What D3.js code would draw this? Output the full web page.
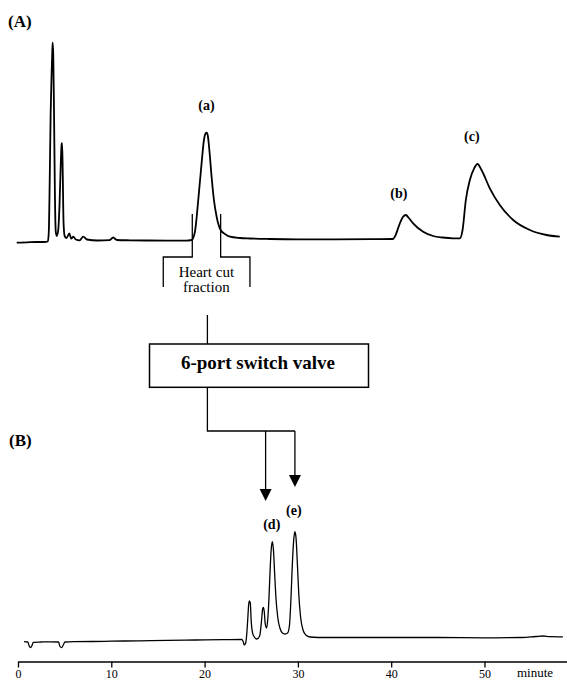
<!DOCTYPE html>
<html>
<head>
<meta charset="utf-8">
<script src="https://cdn.jsdelivr.net/npm/d3@7/dist/d3.min.js"></script>
<style>
  html, body { margin: 0; padding: 0; background: #fff; }
  svg { display: block; }
</style>
</head>
<body>
<div id="chart"></div>
<script>
"use strict";

// Chromatogram (A): retention time (min) and detector signal
var timeA = [-0.14, 1.0, 2.0, 2.8, 3.2, 3.3, 3.4, 3.5, 3.6, 3.68, 3.72, 3.78, 3.86, 3.95,
  4.05, 4.15, 4.3, 4.45, 4.58, 4.68, 4.73, 4.8, 4.88, 5.0, 5.2, 5.5, 5.7, 5.93, 6.2, 6.6,
  7.0, 7.4, 8.5, 9.8, 10.2, 10.6, 12, 14, 16, 18, 18.6, 18.96, 19.32, 19.68, 19.93, 20.1,
  20.22, 20.35, 20.46, 20.75, 21.0, 21.29, 21.72, 22.18, 22.71, 23.79, 24.86, 27, 30, 34,
  38, 40.2, 40.4, 40.93, 41.25, 41.57, 41.89, 42.35, 43.43, 44.5, 45.5, 46.64, 47.36,
  47.65, 48.0, 48.43, 48.89, 49.25, 49.68, 50.57, 51.64, 53.07, 54.86, 56.65, 58.07];
var signalA = [0.15, 0.35, 0.5, 0.5, 0.75, 5.5, 31.5, 65, 84, 96.5, 100.2, 94, 66.5, 26.5,
  5.5, 3.5, 6, 19, 39, 49.5, 49.9, 34, 10.5, 3.5, 2.5, 4.75, 2.25, 3.15, 1.75, 1.35,
  3.15, 1.75, 1.25, 1.4, 2.75, 1.5, 1.35, 1.25, 1.2, 1.2, 1.5, 5.5, 21.5, 40, 51.5, 54.75,
  55.15, 53.5, 49, 33.15, 21.5, 13.15, 6.5, 4.5, 3.15, 2.5, 2.25, 2, 1.85, 1.85,
  1.9, 2, 3.25, 9.85, 13, 14, 12.5, 9.85, 5.65, 3.5, 2.75, 2.35, 2.35,
  6.5, 21.5, 31.5, 37.35, 39.5, 36.5, 27.35, 19, 11.5, 6.5, 4, 3.15];

// Chromatogram (B)
var timeB = [0.64, 1.05, 1.2, 1.35, 1.5, 1.64, 2.5, 3.5, 4.35, 4.5, 4.68, 4.85, 5.04, 6, 8,
  10, 13, 16, 19, 22, 24.0, 24.15, 24.25, 24.4, 24.5, 24.62, 24.72, 24.8, 24.9, 25.0,
  25.21, 25.6, 25.9, 26.11, 26.22, 26.3, 26.4, 26.5, 26.65, 26.78, 26.89, 27.0, 27.12,
  27.25, 27.38, 27.5, 27.64, 27.85, 28.07, 28.35, 28.61, 28.9, 29.1, 29.25, 29.4, 29.55,
  29.68, 29.8, 29.95, 30.1, 30.3, 30.55, 30.85, 31.29, 33, 38, 45, 50, 54, 55.5, 56.25,
  57, 58.4];
var signalB = [0.3, 0, -4, -5.7, -3.5, -0.3, 0, 0.2, 0, -4.5, -5.7, -3, 0, 0.4, 0.5,
  0.8, 1.2, 1.7, 2, 2.3, 2.6, 0, -3, -1, 6, 22, 37, 41, 39, 20,
  7, 3, 6, 22, 33, 34.7, 30, 18, 14, 24, 42, 67, 90,
  100.3, 92, 70, 45, 24, 14, 9, 8, 9, 17, 42, 77, 102,
  110.3, 104, 77, 47, 24, 12, 7, 5, 4.5, 4.5, 4.5, 4.2, 4.5, 5.5, 6,
  5.4, 5.2];

var tickValues = [0, 10, 20, 30, 40, 50];
var peakLabelsA = ["(a)", "(b)", "(c)"];
var peakLabelTimesA = [20.2, 40.82, 48.64];
var peakLabelLevelsA = [66.5, 22.5, 51];
var peakLabelsB = ["(d)", "(e)"];
var peakLabelTimesB = [27.2, 29.57];
var peakLabelLevelsB = [113, 127];
var cutTimes = [18.68, 21.72];
var bracketTimes = [15.57, 24.86];
var valveTime = 20.3;
var arrowTimes = [26.54, 29.68];

var W = 567, H = 681;
var SERIF = "'Liberation Serif', 'Times New Roman', serif";

var svg = d3.select("#chart").append("svg")
  .attr("width", W)
  .attr("height", H);

var x = d3.scaleLinear().domain([0, 58.8]).range([18, 566.6]);
var yA = d3.scaleLinear().domain([0, 100]).range([243, 43]);
var yB = d3.scaleLinear().domain([0, 100]).range([642, 542]);

var lineA = d3.line()
  .x(function (d) { return x(d[0]); })
  .y(function (d) { return yA(d[1]); })
  .curve(d3.curveMonotoneX);
var lineB = d3.line()
  .x(function (d) { return x(d[0]); })
  .y(function (d) { return yB(d[1]); })
  .curve(d3.curveMonotoneX);

// Traces
svg.append("path")
  .datum(d3.zip(timeA, signalA))
  .attr("d", lineA)
  .attr("fill", "none")
  .attr("stroke", "#000")
  .attr("stroke-width", 1.8)
  .attr("stroke-linejoin", "round");

svg.append("path")
  .datum(d3.zip(timeB, signalB))
  .attr("d", lineB)
  .attr("fill", "none")
  .attr("stroke", "#000")
  .attr("stroke-width", 1.3)
  .attr("stroke-linejoin", "round");

// Panel labels
svg.append("text").attr("x", 8).attr("y", 27)
  .attr("font-family", SERIF).attr("font-weight", "bold").attr("font-size", 17)
  .text("(A)");
svg.append("text").attr("x", 9).attr("y", 446)
  .attr("font-family", SERIF).attr("font-weight", "bold").attr("font-size", 17)
  .text("(B)");

// Peak labels
peakLabelsA.forEach(function (s, i) {
  svg.append("text")
    .attr("x", x(peakLabelTimesA[i])).attr("y", yA(peakLabelLevelsA[i]))
    .attr("text-anchor", "middle")
    .attr("font-family", SERIF).attr("font-weight", "bold").attr("font-size", 14)
    .text(s);
});
peakLabelsB.forEach(function (s, i) {
  svg.append("text")
    .attr("x", x(peakLabelTimesB[i])).attr("y", yB(peakLabelLevelsB[i]))
    .attr("text-anchor", "middle")
    .attr("font-family", SERIF).attr("font-weight", "bold").attr("font-size", 14)
    .text(s);
});

// Heart cut bracket
var flow = svg.append("g")
  .attr("fill", "none")
  .attr("stroke", "#000")
  .attr("stroke-width", 1.3);

flow.append("path").attr("d",
  "M" + x(cutTimes[0]) + ",214V257H" + x(bracketTimes[0]) + "V287" +
  "M" + x(cutTimes[1]) + ",214V257H" + x(bracketTimes[1]) + "V287");

svg.append("text")
  .attr("x", x(valveTime) - 1).attr("y", 277)
  .attr("text-anchor", "middle")
  .attr("font-family", SERIF).attr("font-size", 15)
  .text("Heart cut");
svg.append("text")
  .attr("x", x(valveTime) - 1).attr("y", 292)
  .attr("text-anchor", "middle")
  .attr("font-family", SERIF).attr("font-size", 15)
  .text("fraction");

// Switch valve box
flow.append("path").attr("d", "M" + x(valveTime) + ",315V344");
flow.append("rect")
  .attr("x", 149.5).attr("y", 344)
  .attr("width", 219).attr("height", 43.3)
  .attr("stroke-width", 1.5);
svg.append("text")
  .attr("x", 258).attr("y", 368.5)
  .attr("text-anchor", "middle")
  .attr("font-family", SERIF).attr("font-weight", "bold").attr("font-size", 19)
  .text("6-port switch valve");

flow.append("path").attr("d",
  "M" + x(valveTime) + ",387V431H" + x(arrowTimes[1]));

// Arrows into (B)
var arrowTips = [501, 487];
arrowTimes.forEach(function (t, i) {
  var ax = x(t), tip = arrowTips[i];
  flow.append("path").attr("d", "M" + ax + ",431V" + (tip - 10));
  svg.append("path")
    .attr("d", "M" + (ax - 6) + "," + (tip - 12) + "L" + (ax + 6) + "," + (tip - 12) + "L" + ax + "," + tip + "Z")
    .attr("fill", "#000");
});

// Time axis
var axis = d3.axisBottom(x)
  .tickValues(tickValues)
  .tickSize(6)
  .tickSizeOuter(0)
  .tickPadding(2);

var gAxis = svg.append("g")
  .attr("transform", "translate(0,661.5)")
  .call(axis);
gAxis.select(".domain").attr("stroke", "#000").attr("stroke-width", 1.5);
gAxis.selectAll(".tick line").attr("stroke", "#000").attr("stroke-width", 1.3);
gAxis.selectAll(".tick text")
  .attr("font-family", SERIF).attr("font-size", 12).attr("fill", "#000");

svg.append("text")
  .attr("x", 517).attr("y", 677)
  .attr("font-family", SERIF).attr("font-size", 13)
  .text("minute");
</script>
</body>
</html>
